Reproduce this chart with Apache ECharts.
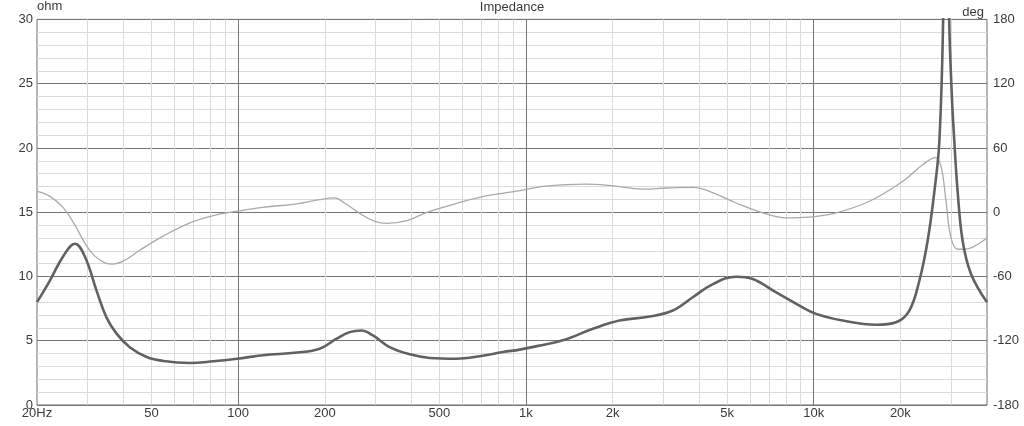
<!DOCTYPE html>
<html>
<head>
<meta charset="utf-8">
<script src="https://cdn.jsdelivr.net/npm/echarts@6/dist/echarts.min.js"></script>
<style>
html,body{margin:0;padding:0;background:#fff;}
#chart{width:1024px;height:426px;}
</style>
</head>
<body>
<div id="chart"></div>
<script>
// Impedance magnitude (ohm) vs frequency (Hz)
const impFreq = [20, 22.2, 24.7, 27.1, 29.4, 32.2, 34.9, 37.8, 42, 48.1, 54.9, 68, 81.9, 99.2, 122, 160, 192, 220, 244, 268, 294, 336, 395, 463, 573, 691, 832, 951, 1100, 1344, 1709, 2115, 2689, 3239, 3800, 4461, 5375, 6141, 7404, 8916, 10193, 12612, 16468, 19316, 21490, 23280, 24870, 26250, 27320, 28160, 28850, 29560, 30200, 30800, 31630, 32920, 35200, 40000];
const impOhm  = [8.0, 9.7, 11.6, 12.55, 11.5, 8.9, 6.8, 5.55, 4.5, 3.74, 3.43, 3.27, 3.4, 3.6, 3.87, 4.08, 4.38, 5.16, 5.67, 5.8, 5.41, 4.5, 3.94, 3.66, 3.6, 3.79, 4.12, 4.31, 4.6, 5.03, 5.93, 6.57, 6.88, 7.35, 8.38, 9.41, 9.98, 9.8, 8.76, 7.73, 7.09, 6.57, 6.24, 6.44, 7.35, 9.67, 12.76, 16.6, 20.5, 30, 48, 30, 24, 20.5, 16.6, 12.76, 10.2, 8.0];

// Phase (deg) vs frequency (Hz)
const phFreq = [20, 22.2, 24.7, 27, 29.5, 31.7, 34.3, 36.6, 40, 45.2, 54.9, 68, 81.9, 99.2, 122, 160, 192, 217, 234, 263, 297, 330, 389, 448, 556, 690, 951, 1146, 1621, 1953, 2549, 3074, 3800, 4342, 5375, 6651, 8019, 9661, 11960, 15610, 20370, 23900, 26460, 27690, 28820, 29980, 31630, 33380, 40000];
const phDeg  = [19.5, 14.8, 4.0, -11.4, -30, -40.8, -47, -48.5, -45.5, -36, -22.3, -9.9, -3.1, 0.9, 4.6, 7.7, 11.8, 13.3, 8.6, -0.6, -8.4, -10.5, -7.7, -0.6, 7.1, 13.9, 20.1, 24.1, 26.3, 25, 21.6, 22.6, 23.2, 19.5, 8.6, -0.6, -5.3, -4.6, -0.6, 10.2, 28.8, 44.3, 51, 42.7, 10.2, -23.8, -34.6, -34.6, -23.8];

// Axis ticks
const freqLabels = [20, 50, 100, 200, 500, 1000, 2000, 5000, 10000, 20000];
const freqMajorGrid = [100, 1000, 10000];
const freqMinorGrid = [30, 40, 50, 60, 70, 80, 90, 200, 300, 400, 500, 600, 700, 800, 900, 2000, 3000, 4000, 5000, 6000, 7000, 8000, 9000, 20000, 30000];
const freqMin = 20, freqMax = 40000;
const ohmMin = 0, ohmMax = 30, ohmStep = 5;
const degMin = -180, degMax = 180, degStep = 60;

const L = v => Math.log10(v);
const pair = (xs, ys) => xs.map((x, i) => [L(x), ys[i]]);
const FONT = 'Liberation Sans, Arial, sans-serif';
const TXT = '#3a3a3a';

const chart = echarts.init(document.getElementById('chart'), null, {renderer: 'canvas'});
chart.setOption({
  animation: false,
  backgroundColor: '#ffffff',
  title: {
    text: 'Impedance', left: 'center', top: -4,
    textStyle: {fontFamily: FONT, fontSize: 13, fontWeight: 'normal', color: TXT}
  },
  grid: {left: 37, right: 37, top: 17, bottom: 21, show: true, borderColor: '#6e6e6e', borderWidth: 1, backgroundColor: '#fff'},
  xAxis: [
    {
      type: 'value', min: L(freqMin), max: L(freqMax), position: 'bottom', z: 1,
      axisLine: {show: false},
      axisTick: {show: false, customValues: freqMajorGrid.map(L)},
      splitLine: {show: true, lineStyle: {color: '#757575', width: 1}},
      axisLabel: {
        customValues: freqLabels.map(L), margin: 2,
        fontFamily: FONT, fontSize: 13, color: TXT,
        formatter: v => {
          const f = Math.round(Math.pow(10, v));
          if (f === 20) return '20Hz';
          return f >= 1000 ? (f / 1000) + 'k' : String(f);
        }
      }
    },
    {
      type: 'value', min: L(freqMin), max: L(freqMax), position: 'top', z: 0,
      axisLine: {show: false},
      axisTick: {show: false, customValues: freqMinorGrid.map(L)},
      axisLabel: {show: false},
      splitLine: {show: true, lineStyle: {color: '#dadada', width: 1}}
    }
  ],
  yAxis: [
    {
      type: 'value', min: ohmMin, max: ohmMax, interval: ohmStep, position: 'left',
      name: 'ohm', nameLocation: 'end', nameGap: -1,
      nameTextStyle: {align: 'left', fontFamily: FONT, fontSize: 13, color: TXT},
      axisLine: {show: false}, axisTick: {show: false},
      axisLabel: {margin: 4, fontFamily: FONT, fontSize: 13, color: TXT},
      splitLine: {show: true, lineStyle: {color: '#757575', width: 1}},
      minorTick: {show: false, splitNumber: 5},
      minorSplitLine: {show: true, lineStyle: {color: '#dadada', width: 1}}
    },
    {
      type: 'value', min: degMin, max: degMax, interval: degStep, position: 'right',
      name: 'deg', nameLocation: 'end', nameGap: 0,
      nameTextStyle: {align: 'right', padding: [0, 3, 0, 0], fontFamily: FONT, fontSize: 13, color: TXT},
      axisLine: {show: false}, axisTick: {show: false},
      axisLabel: {margin: 6, fontFamily: FONT, fontSize: 13, color: TXT},
      splitLine: {show: false}
    }
  ],
  series: [
    {
      name: 'Phase', type: 'line', xAxisIndex: 0, yAxisIndex: 1,
      data: pair(phFreq, phDeg), showSymbol: false, smooth: 0.4, clip: true,
      lineStyle: {color: '#a9a9a9', width: 1.3}, z: 3
    },
    {
      name: 'Impedance', type: 'line', xAxisIndex: 0, yAxisIndex: 0,
      data: pair(impFreq, impOhm), showSymbol: false, smooth: 0.4, clip: true,
      lineStyle: {color: '#616161', width: 2.6}, z: 4
    }
  ]
});
</script>
</body>
</html>
